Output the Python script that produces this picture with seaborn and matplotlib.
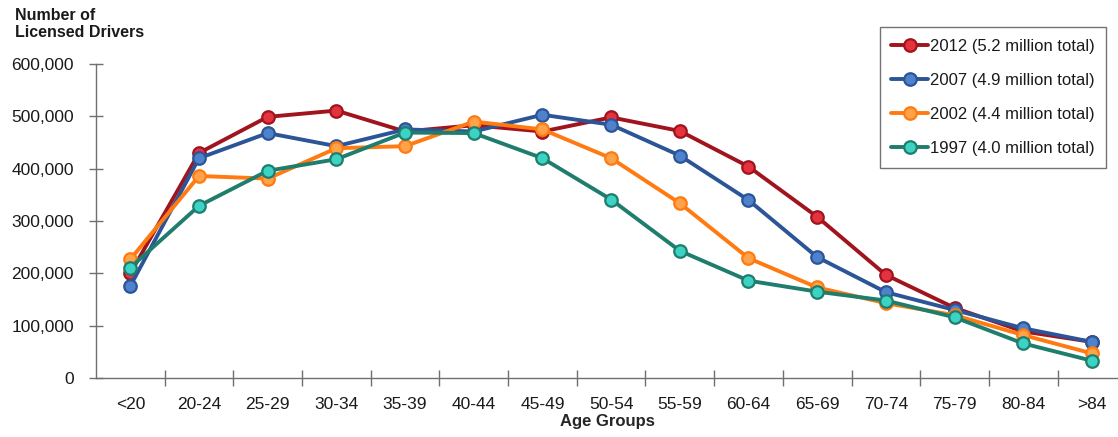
import matplotlib
matplotlib.use('Agg')
import matplotlib.pyplot as plt
import seaborn as sns
import pandas as pd
from matplotlib.ticker import FuncFormatter, FixedLocator

# age groups on the x axis
age_groups = ['<20', '20-24', '25-29', '30-34', '35-39', '40-44', '45-49', '50-54',
              '55-59', '60-64', '65-69', '70-74', '75-79', '80-84', '>84']

# licensed drivers per age group
drivers_2012 = [200000, 430000, 499000, 511000, 471000, 483000, 471000, 498000,
                472000, 404000, 308000, 197000, 134000, 89000, 69000]
drivers_2007 = [176000, 420000, 468000, 443000, 475000, 471000, 503000, 484000,
                425000, 340000, 231000, 164000, 130000, 95000, 69000]
drivers_2002 = [227000, 386000, 381000, 439000, 443000, 490000, 475000, 420000,
                334000, 229000, 173000, 143000, 120000, 82000, 47000]
drivers_1997 = [211000, 329000, 396000, 418000, 469000, 468000, 420000, 341000,
                243000, 186000, 165000, 148000, 116000, 66000, 33000]

series_labels = ['2012 (5.2 million total)', '2007 (4.9 million total)',
                 '2002 (4.4 million total)', '1997 (4.0 million total)']

sns.set_style('white')
plt.rcParams['font.family'] = ['Liberation Sans', 'DejaVu Sans']
plt.rcParams['text.color'] = '#1a1a1a'
plt.rcParams['xtick.labelcolor'] = '#1a1a1a'
plt.rcParams['ytick.labelcolor'] = '#1a1a1a'

fig = plt.figure(figsize=(11.18, 4.37), dpi=100)
ax = fig.add_axes([96 / 1118, (437 - 378) / 437, (1118 - 96) / 1118, (378 - 64) / 437])

styles = [
    ('#A0141E', '#E5323F'),   # 2012 red
    ('#2B5597', '#4F82CC'),   # 2007 blue
    ('#FF7A10', '#FFA24A'),   # 2002 orange
    ('#1E7D6C', '#3CD2C4'),   # 1997 teal
]
all_values = [drivers_2012, drivers_2007, drivers_2002, drivers_1997]

for vals, label, (lc, fc) in zip(all_values, series_labels, styles):
    df = pd.DataFrame({'age': age_groups, 'drivers': vals})
    sns.lineplot(data=df, x='age', y='drivers', ax=ax, color=lc, linewidth=2.8,
                 marker='o', markersize=9, markerfacecolor=fc,
                 markeredgecolor=lc, markeredgewidth=1.6, label=label)

ax.set_xlim(-0.5, 14.38)
ax.set_ylim(0, 600000)
ax.set_yticks(range(0, 600001, 100000))
ax.yaxis.set_major_formatter(FuncFormatter(lambda v, p: f'{int(v):,}'))

sns.despine(ax=ax)
for side in ['left', 'bottom']:
    ax.spines[side].set_color('#707070')
    ax.spines[side].set_linewidth(1.0)

ax.tick_params(axis='y', direction='inout', length=10, width=1, color='#707070',
               labelsize=12.5, pad=11, left=True)
ax.tick_params(axis='x', which='major', length=0, labelsize=12.5, pad=14)
ax.xaxis.set_minor_locator(FixedLocator([i + 0.5 for i in range(14)]))
ax.tick_params(axis='x', which='minor', direction='inout', length=12, width=1,
               color='#707070', bottom=True)

ax.set_xlabel('Age Groups', fontsize=12, fontweight='bold', labelpad=1)
ax.set_ylabel('')
fig.text(15 / 1118, 1 - 8 / 437, 'Number of\nLicensed Drivers', ha='left', va='top',
         fontsize=11.5, fontweight='bold', linespacing=1.15)

leg = ax.legend(loc='upper right', bbox_to_anchor=(1106 / 1118, 1 - 27 / 437),
                bbox_transform=fig.transFigure, frameon=True, fancybox=False,
                fontsize=12, handlelength=2.2, handletextpad=0.1,
                labelspacing=1.15, borderpad=0.7, borderaxespad=0)
leg.get_frame().set_edgecolor('#505050')
leg.get_frame().set_linewidth(1.0)

fig.savefig('out.png', dpi=100)
